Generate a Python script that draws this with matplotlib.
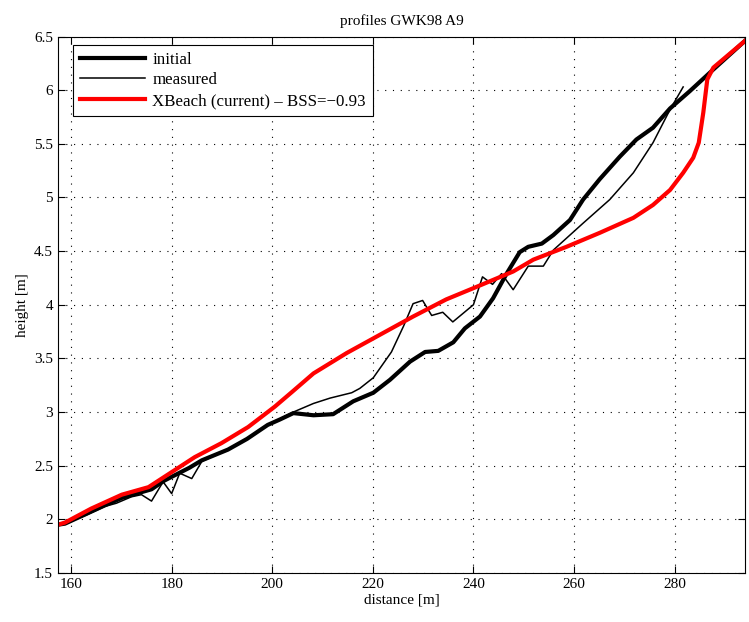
import numpy as np
import matplotlib
matplotlib.use("Agg")
import matplotlib.pyplot as plt

plt.rcParams['font.family'] = ['Liberation Serif', 'DejaVu Serif']
plt.rcParams['mathtext.fontset'] = 'stix'

# profiel initieel
x_init = [157.4, 158.8, 163, 166.7, 170.1, 173, 176, 178.5, 181, 183.5, 186, 191.2, 195, 199.1, 201.5,
          204.2, 208.2, 212.1, 216.1, 220.1, 223.4, 227.4, 230.4, 233, 236, 238.3, 241.3, 243.9,
          246.6, 249.2, 250.9, 253.6, 255.9, 259.2, 261.8, 265.1, 269.1, 272.4, 275.7, 279.1,
          283, 287.4, 294]
z_init = [1.95, 1.96, 2.05, 2.13, 2.2, 2.24, 2.28, 2.36, 2.42, 2.48, 2.55, 2.65, 2.75, 2.88, 2.93,
          2.99, 2.97, 2.98, 3.1, 3.18, 3.3, 3.47, 3.56, 3.57, 3.65, 3.78, 3.89, 4.06,
          4.29, 4.49, 4.54, 4.57, 4.65, 4.79, 4.98, 5.17, 5.38, 5.54, 5.65, 5.83,
          5.99, 6.18, 6.46]

# gemeten profiel
x_meas = [157.4, 158.8, 163, 166.7, 169, 172, 174, 176, 178.3, 180, 181.6, 184, 186, 191.2, 195,
          199.1, 204.2, 208.2, 211.5, 215.8, 217.4, 220.1, 223.7, 226.1, 228, 229.9, 231.7,
          233.9, 235.9, 240, 241.8, 243.8, 245.6, 247.9, 250.9, 253.9, 255.9, 261.8, 267.1,
          271.8, 275.7, 279.1, 281.7]
z_meas = [1.95, 1.96, 2.04, 2.12, 2.15, 2.21, 2.23, 2.17, 2.35, 2.24, 2.43, 2.38, 2.54, 2.65, 2.75,
          2.88, 3.0, 3.08, 3.13, 3.18, 3.22, 3.32, 3.56, 3.8, 4.01, 4.04, 3.9,
          3.93, 3.84, 4.0, 4.26, 4.19, 4.29, 4.14, 4.36, 4.36, 4.51, 4.76, 4.98,
          5.23, 5.51, 5.82, 6.03]

# XBeach resultaat
x_xb = [157.4, 158.8, 164, 170.1, 175.4, 180, 184.6, 189.9, 195.2, 200.5, 204, 208.2, 214.8,
        221.4, 228, 234.6, 241.3, 247.9, 251.9, 258.5, 265.1, 271.8, 275.7, 279.1, 281.7,
        283.7, 284.8, 285.7, 286.5, 287.7, 294]
z_xb = [1.95, 1.97, 2.1, 2.23, 2.3, 2.44, 2.58, 2.71, 2.86, 3.05, 3.19, 3.36, 3.55,
        3.72, 3.89, 4.05, 4.18, 4.31, 4.42, 4.54, 4.67, 4.81, 4.93, 5.07, 5.23,
        5.37, 5.51, 5.79, 6.1, 6.21, 6.46]

fig = plt.figure(figsize=(7.49, 6.22), dpi=100)
ax = fig.add_axes([0.0774, 0.0788, 0.9173, 0.8625])

ax.plot(x_init, z_init, color='k', lw=3, label='initial')
ax.plot(x_meas, z_meas, color='k', lw=1.1, label='measured')
ax.plot(x_xb, z_xb, color='r', lw=3, label='XBeach (current) \u2013 BSS=\u22120.93')

ax.set_xlim(157.4, 294)
ax.set_ylim(1.5, 6.5)
ax.set_xticks(np.arange(160, 300, 20))
ax.set_yticks(np.arange(1.5, 6.6, 0.5))
ax.set_yticklabels(['1.5', '2', '2.5', '3', '3.5', '4', '4.5', '5', '5.5', '6', '6.5'])
ax.grid(True, color='k', linestyle=(0, (1, 6)), linewidth=0.8)
ax.tick_params(direction='in', top=True, right=True, labelsize=11, length=5)
for s in ax.spines.values():
    s.set_linewidth(0.8)

ax.set_xlabel('distance [m]', fontsize=11, labelpad=2)
ax.set_ylabel('height [m]', fontsize=11, labelpad=4)
ax.set_title('profiles GWK98 A9', fontsize=11, pad=8)

leg = ax.legend(loc='upper left', bbox_to_anchor=(0.022, 0.985), borderaxespad=0,
                fontsize=12.2, fancybox=False, framealpha=1,
                edgecolor='k', handlelength=3.8, handletextpad=0.45,
                labelspacing=0.28, borderpad=0.42)
leg.get_frame().set_linewidth(0.8)

fig.savefig('out.png', dpi=100)
